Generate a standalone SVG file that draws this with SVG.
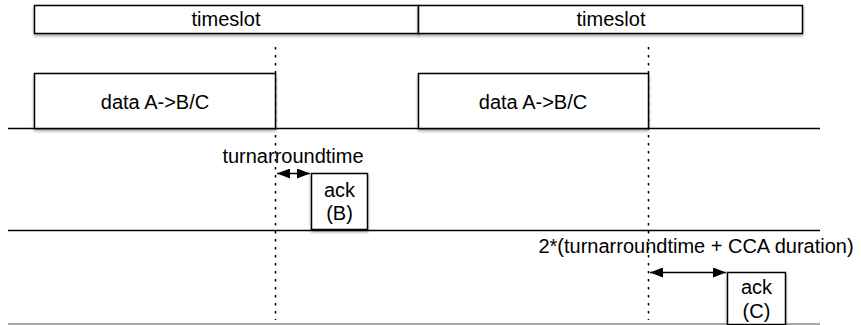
<svg xmlns="http://www.w3.org/2000/svg" width="861" height="325" viewBox="0 0 861 325">
<style>
.box{fill:#fff;stroke:#000;stroke-width:1.5;filter:url(#sh)}
.t{font-family:"Liberation Sans",Arial,sans-serif;font-size:20px;fill:#000;text-anchor:middle}
.ln{stroke:#000;stroke-width:1.5;fill:none}
.dot{stroke:#000;stroke-width:1.5;stroke-dasharray:2.5,5.5;fill:none}
.arr{stroke:#000;stroke-width:1.5;fill:none;marker-start:url(#ah);marker-end:url(#ah)}
</style>
<defs>
<filter id="sh" x="-10%" y="-10%" width="130%" height="140%">
<feGaussianBlur in="SourceAlpha" stdDeviation="1.5"/>
<feOffset dx="0" dy="2" result="b"/>
<feComponentTransfer><feFuncA type="linear" slope="0.35"/></feComponentTransfer>
<feMerge><feMergeNode/><feMergeNode in="SourceGraphic"/></feMerge>
</filter>
<marker id="ah" viewBox="0 0 13 10" refX="13" refY="5" markerWidth="13" markerHeight="10" markerUnits="userSpaceOnUse" orient="auto-start-reverse">
<path d="M0,0 L13,5 L0,10 z" fill="#000"/>
</marker>
</defs>
<g id="connectors">
<line class="ln" x1="8" y1="128.5" x2="820" y2="128.5"/>
<line class="ln" x1="8" y1="230.5" x2="820" y2="230.5"/>
<line x1="8" y1="324" x2="820" y2="324" stroke="#888" stroke-width="1.5"/>
<line class="dot" x1="275.5" y1="47" x2="275.5" y2="320"/>
<line class="dot" x1="648.5" y1="47" x2="648.5" y2="320"/>
<line class="arr" x1="277" y1="173.5" x2="310" y2="173.5"/>
<line class="arr" x1="650" y1="272.5" x2="726" y2="272.5"/>
</g>
<g id="timeslot1"><rect class="box" x="34.5" y="5.5" width="384" height="28"/><text class="t" x="226" y="26">timeslot</text></g>
<g id="timeslot2"><rect class="box" x="418.5" y="5.5" width="384" height="28"/><text class="t" x="611" y="26">timeslot</text></g>
<g id="data1"><rect class="box" x="34.5" y="73.5" width="241" height="55"/><text class="t" x="155" y="109">data A-&gt;B/C</text></g>
<g id="data2"><rect class="box" x="418.5" y="73.5" width="230" height="55"/><text class="t" x="533" y="109">data A-&gt;B/C</text></g>
<g id="lbl1"><text class="t" x="293" y="163">turnarroundtime</text></g>
<g id="ackB"><rect class="box" x="311.5" y="173.5" width="56" height="56"/><text class="t" x="339.5" y="197">ack</text><text class="t" x="339.5" y="220">(B)</text></g>
<g id="lbl2"><text class="t" x="696" y="253">2*(turnarroundtime + CCA duration)</text></g>
<g id="ackC"><rect class="box" x="727.5" y="272.5" width="58" height="52"/><text class="t" x="756.5" y="294">ack</text><text class="t" x="756.5" y="318">(C)</text></g>
</svg>
